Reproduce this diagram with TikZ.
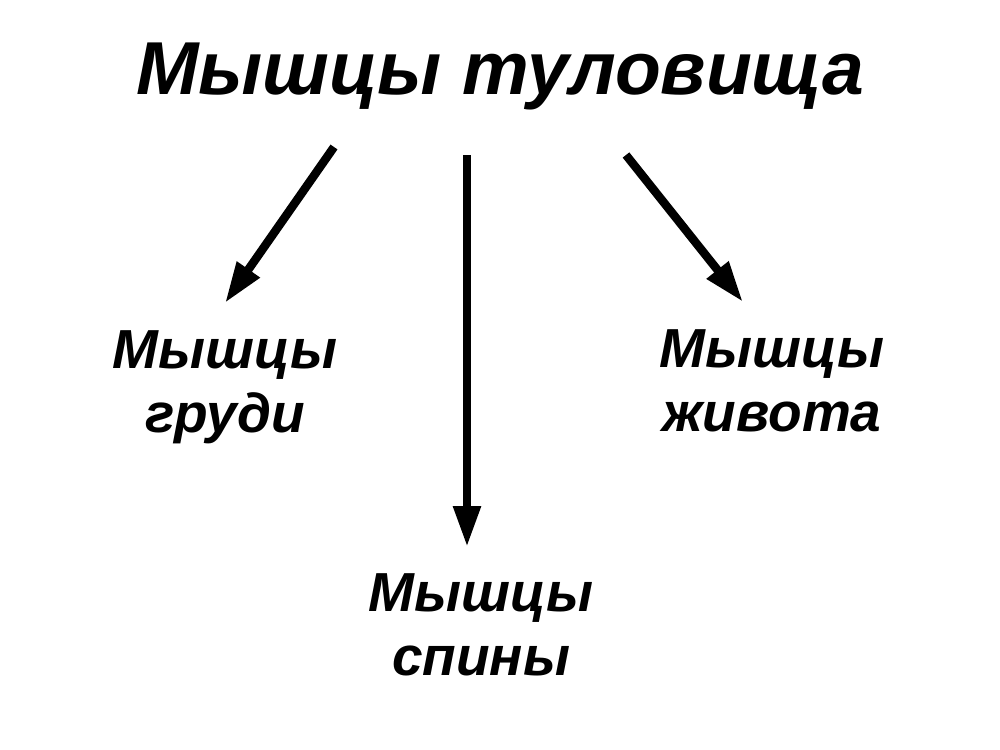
\documentclass[tikz,border=0pt]{standalone}
\usepackage{fontspec}
\setmainfont{Liberation Sans}
\usetikzlibrary{arrows.meta}
\tikzset{
  title/.style={font=\fontsize{42.7}{48}\selectfont\bfseries\itshape, inner sep=0pt, anchor=north},
  label/.style={font=\fontsize{31.3}{36.5}\selectfont\bfseries\itshape, inner sep=0pt, anchor=north, align=center},
  arr/.style={line width=0.17cm, -{Triangle[length=0.82cm,width=0.52cm]}}
}
\begin{document}
\begin{tikzpicture}[x=0.02cm,y=-0.02cm]
\useasboundingbox (0,0) rectangle (1000,750);
\node[title] (t) at (500,43) {Мышцы туловища};
\node[label] (g) at (225,330) {Мышцы\\груди};
\node[label] (s) at (481,573) {Мышцы\\спины};
\node[label] (z) at (772,329) {Мышцы\\живота};
\coordinate (a1) at (334,147);
\coordinate (a2) at (467,155);
\coordinate (a3) at (626,155);
\coordinate (b1) at (225,303);
\coordinate (b2) at (467,547);
\coordinate (b3) at (743,302);
\draw[arr] (a1) -- (b1);
\draw[arr] (a2) -- (b2);
\draw[arr] (a3) -- (b3);
\end{tikzpicture}
\end{document}
